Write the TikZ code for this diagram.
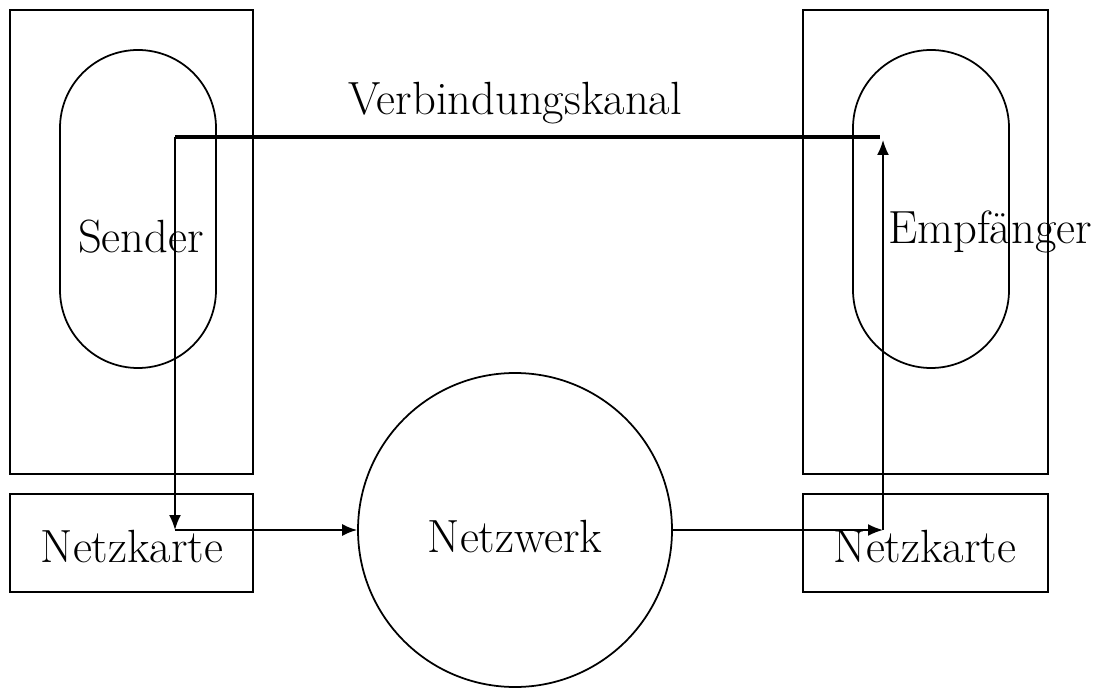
\documentclass[tikz,border=0pt]{standalone}
\usetikzlibrary{arrows.meta}

\tikzstyle{box}=[draw, line width=1pt, inner sep=0pt]
\tikzstyle{proc}=[draw, line width=1pt, rounded corners=1.56cm,
                  minimum width=3.12cm, minimum height=6.36cm]
\tikzstyle{lbl}=[font=\fontsize{26.5}{31}\selectfont, inner sep=0pt]
\tikzstyle{pfeil}=[line width=1pt, -{Latex[length=3mm,width=2.4mm]}]

\begin{document}
\begin{tikzpicture}
    \useasboundingbox (0,0) rectangle (21.98,13.74);
    % Rechner links und rechts
    \node[box, minimum width=4.86cm, minimum height=9.28cm] (rechnerA) at (2.63,8.9) {};
    \node[box, minimum width=4.86cm, minimum height=1.96cm] (karteA) at (2.63,2.88) {};
    \node[box, minimum width=4.9cm, minimum height=9.28cm] (rechnerB) at (18.51,8.9) {};
    \node[box, minimum width=4.9cm, minimum height=1.96cm] (karteB) at (18.51,2.88) {};
    % Prozesse
    \node[proc] (procA) at (2.76,9.56) {};
    \node[proc] (procB) at (18.62,9.56) {};
    % Netz
    \node[draw, circle, line width=1pt, minimum size=6.28cm] (netz) at (10.3,3.14) {};
    % Beschriftungen
    \node[lbl] (sender) at (2.82,9.0) {Sender};
    \node[lbl] (empf) at (19.8,9.1) {Empfänger};
    \node[lbl] (nkA) at (2.64,2.8) {Netzkarte};
    \node[lbl] (nkB) at (18.5,2.8) {Netzkarte};
    \node[lbl] (nw) at (10.3,3.0) {Netzwerk};
    \node[lbl] (kanal) at (10.3,11.68) {Verbindungskanal};
    % Weg der Daten
    \coordinate (a) at (3.5,11.0);
    \coordinate (b) at (17.6,11.0);
    \coordinate (c) at (3.5,3.14);
    \coordinate (d) at (17.66,3.14);
    \coordinate (e) at (17.66,10.94);
    \draw[line width=2.2pt] (a) -- (b);
    \draw[pfeil] (a) -- (c);
    \draw[pfeil] (c) -- (netz);
    \draw[pfeil] (netz) -- (d);
    \draw[pfeil] (d) -- (e);
\end{tikzpicture}
\end{document}
